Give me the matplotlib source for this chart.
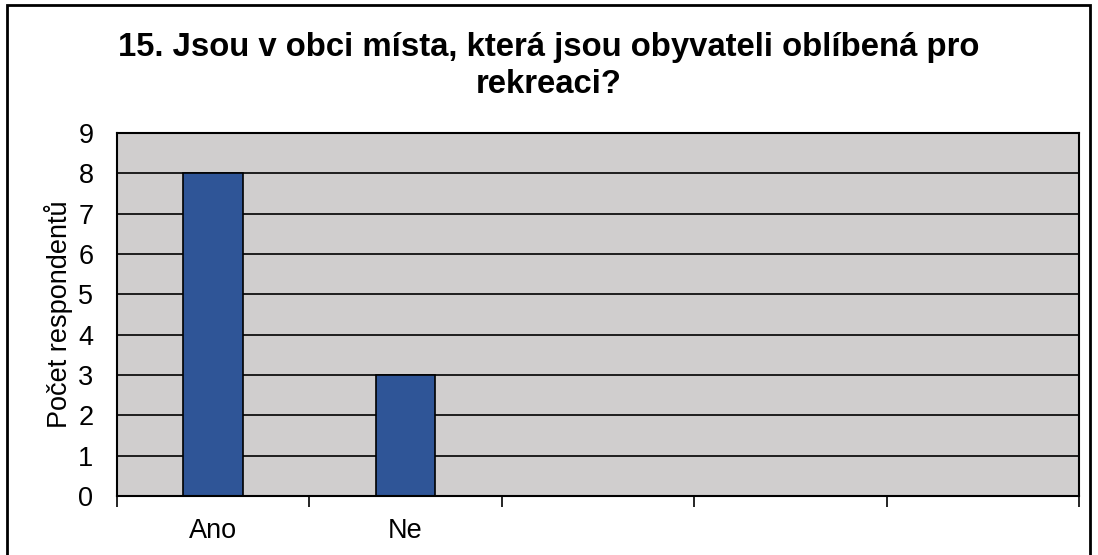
import matplotlib.pyplot as plt
from matplotlib.patches import Rectangle

plt.rcParams['font.family'] = ['Liberation Sans', 'DejaVu Sans']

categories = ["Ano", "Ne", "", "", ""]
values = [8, 3, 0, 0, 0]
yticks = list(range(0, 10))

fig = plt.figure(figsize=(10.98, 5.55), dpi=100)
ax = fig.add_axes([117 / 1098, 1 - 496 / 555, (1079 - 117) / 1098, (496 - 133) / 555])

ax.set_facecolor('#D0CECE')
ax.set_axisbelow(True)
ax.yaxis.grid(True, color='black', linewidth=1.2)

x = list(range(len(categories)))
ax.bar(x[:2], values[:2], width=0.31, color='#2F5597', edgecolor='black', linewidth=1.2)

ax.set_xlim(-0.5, len(categories) - 0.5)
ax.set_ylim(0, 9)
ax.set_yticks(yticks)
ax.set_xticks(x)
ax.set_xticklabels(categories)
ax.set_xticks([i - 0.5 for i in range(len(categories) + 1)], minor=True)
ax.tick_params(axis='x', which='major', length=0, pad=16, labelsize=19.5)
ax.tick_params(axis='x', which='minor', length=8, width=1.2, direction='out')
ax.tick_params(axis='y', length=0, pad=17, labelsize=19.5)
for s in ax.spines.values():
    s.set_linewidth(1.5)

ax.set_ylabel("Počet respondentů", fontsize=19.5, labelpad=4)

fig.text(0.5, 1 - 66 / 555, "15. Jsou v obci místa, která jsou obyvateli oblíbená pro\nrekreaci?",
         ha='center', va='center', fontsize=23.7, fontweight='bold', linespacing=1.25)

fig.patches.append(Rectangle((7 / 1098, -0.01), (1090 - 7) / 1098, 1 - 5 / 555 + 0.01,
                             transform=fig.transFigure, fill=False, edgecolor='black', linewidth=2))

fig.savefig('out.png', dpi=100)
